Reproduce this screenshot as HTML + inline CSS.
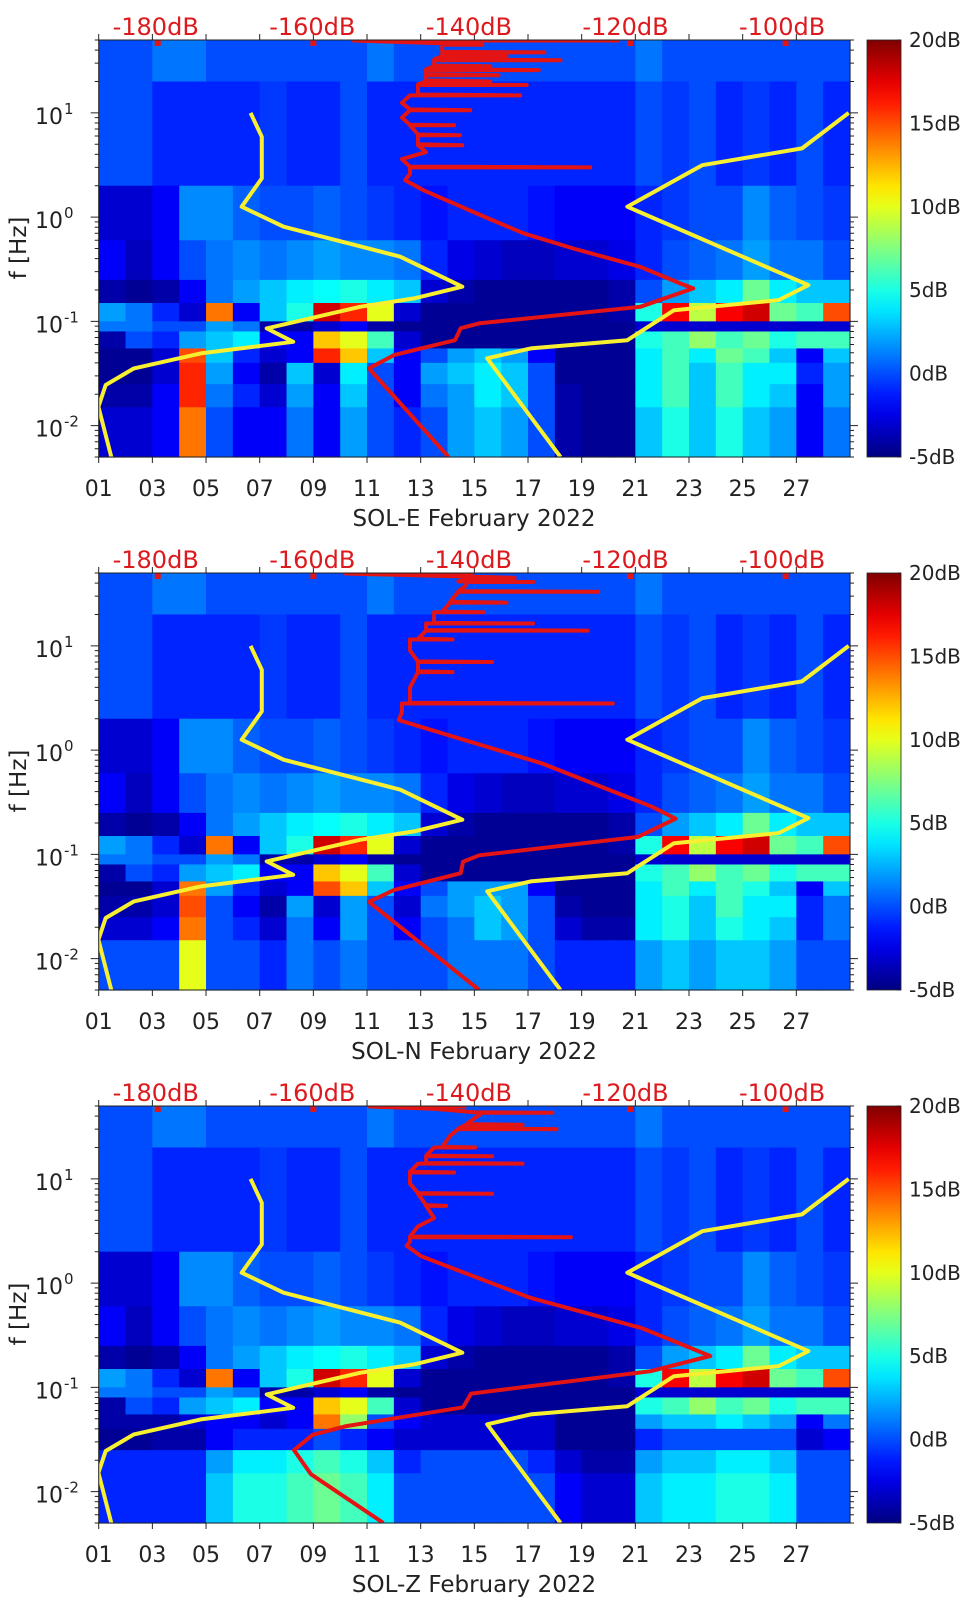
<!DOCTYPE html>
<html><head><meta charset="utf-8">
<style>
html,body{margin:0;padding:0;background:#fff;}
body{width:962px;height:1599px;position:relative;overflow:hidden;font-family:"DejaVu Sans","Liberation Sans",sans-serif;}
svg{position:absolute;left:0;}
</style></head>
<body>
<svg id="p0" width="962" height="533" style="top:0"></svg>
<svg id="p1" width="962" height="533" style="top:533px"></svg>
<svg id="p2" width="962" height="533" style="top:1066px"></svg>
<script>
// ---- data ----
const bandEdges=[50,20,2,0.6,0.25,0.15,0.1,0.08,0.055,0.04,0.025,0.015,0.005];
const dayTicks=[1,3,5,7,9,11,13,15,17,19,21,23,25,27];
const dbTicks=[-180,-160,-140,-120,-100];
const cbTicks=[20,15,10,5,0,-5];
const panelNames=["SOL-E February 2022","SOL-N February 2022","SOL-Z February 2022"];
// shared upper rows (dB per day 1..28)
const rowA=[0,0,1,1,0,0,0,0,0,0,1,0,0,0,0,0,0,0,0,0,1,0,0,0,0,0,0,0];
const rowB=[0,0,-1,-1,-1,-1,-0.5,-1,-1,0,-1,-1,-1,-1,-1,-1,-1,-1,-1,-1,0,-0.5,0,-1,-0.5,-1,0,-1];
const rowC=[-3,-3,-2,1.5,1.5,0.5,0,0,0.5,0,-0.5,-1,-1.5,-1,-1,-1,-1.5,-2,-2,-2,-1,-0.5,0,0,1.5,0.5,0,-0.5];
const rowD=[-2,-3.5,-2,0,1,1.5,1,1.5,2,1.5,1.5,1,-1,-2.5,-3,-3.5,-3.5,-3,-3,-2.5,-1,0,0.5,1,2,1,1,0];
const rowE=[-4,-4.5,-4,-2,1,2,3,4,4.5,5,4,3,-3,-4,-4.5,-4.5,-4.5,-4.5,-4.5,-4,0,2,3,4,7,4,3,3];
const rowF=[2,1,-1,-3,14,-2,3,5,18,16,10,-3,-4.5,-4.5,-4.5,-4.5,-4.5,-4.5,-4.5,-4,5,17,9,17,18,7,6,15];
const rowG=[1,1,0,0,2,1,-4,-4,-3,-2,-4,-4.5,-4.5,-4.5,-4.5,-4.5,-4.5,-4.5,-4.5,-4.5,-3,-3,-3,-3,-3,-3,-3,-3];
const rowH=[-4,0,-1,2,3,4,-2,-2,12,10,6,-3,-4.5,-4.5,-4.5,-4.5,-4.5,-4.5,-4.5,-4.5,5,6,8,6,7,5,6,6];
// per-panel lower rows
const eI=[-4.5,-4.5,-3,15,3,-1,-3,-2,16,12,3,-2,0,2,3,2,-2,-4.5,-4.5,-4.5,4,6,4,7,6,3,-2,3];
const eJ1=[-4.5,-4.5,-3,16,2,-2,-4,3,-3,4,0,-2,2,3,4,3,0,-4.5,-4.5,-4.5,4,6,3,6,4,4,-1,2];
const eJ2=[-4,-4,-2,16,1,-1,-3,2,-2,3,0,-2,1,2,4,3,0,-4,-4.5,-4.5,4,6,3,6,4,3,-2,2];
const eK=[-3,-3,-2,14,0,-2,-2,1,-2,2,0,-1,0,2,3,2,0,-4,-4.5,-4.5,3,5,3,5,3,2,-2,1];
const nI=[-4.5,-4.5,-3,14,2,-1,-3,-2,15,12,3,-2,0,2,2,2,-2,-4.5,-4.5,-4.5,4,6,4,6,5,3,-2,3];
const nJ1=[-4,-4,-3,15,0,-2,-4,2,-3,2,0,-3,1,2,3,2,0,-4,-4.5,-4.5,4,5,3,6,4,4,-1,1];
const nJ2=[-3,-3,-2,14,0,-1,-3,1,-2,2,0,-2,0,1,3,2,0,-3,-4,-4,4,5,3,5,4,3,-1,1];
const nK=[0,0,0,10,0,0,-1,1,0,1,0,0,0,1,1,1,0,-1,-1,-1,2,3,2,3,3,2,0,0];
const zI=[-4,-4,-4,-3,-2,-2,-3,-2,14,8,0,-2,-3,-3,-3,-3,-3,-4.5,-4.5,-4.5,2,3,3,4,3,2,-2,1];
const zJ1=[-4.5,-4.5,-4,-4,-2,-1,-1,-1,0,-1,-2,-3,-3,-3,-3,-3,-3,-4.5,-4.5,-4.5,-1,0,0,0,0,0,-3,-2];
const zJ2=[-1,-1,-1,-1,2,4,4,5,6,5,3,-1,0,0,0,0,-1,-3,-4,-4,2,3,3,4,4,3,0,0];
const zK=[-1,-1,-1,-1,3,5,5,6,7,6,4,0,0,0,0,0,0,-2,-3,-3,3,4,4,5,5,4,0,0];
// noise models (yellow)
const lowF=[10,5.9,2.35,1.26,0.81,0.417,0.215,0.166,0.138,0.0857,0.0637,0.0493,0.0354,0.0245,0.0152,0.005];
const lowDb=[-167.8,-166.4,-166.4,-168.9,-163.7,-149.2,-141.5,-147.5,-154.2,-165.8,-162.5,-174,-182.3,-185.8,-186.7,-185.1];
const highF=[10,4.56,3.15,1.26,0.223,0.16,0.128,0.066,0.0551,0.0442,0.005];
const highDb=[-93.5,-99.3,-111.7,-121,-98.5,-102.2,-115.2,-121,-133,-138.4,-129.3];
// red curves
const redF0=[0.005,0.0354,0.0475,0.066,0.086,0.096,0.138,0.207,0.231,0.334,0.5,0.7,1.05,1.81,2.26,2.6,3.0,3.0,3.05,3.6,4.2,4.9,4.9,5.0,6.1,6.1,6.2,7.6,7.6,7.7,9,10.6,10.6,10.8,12.5,14.7,14.7,15,18.5,18.5,18.8,20,20,20.5,22,23,23,23.5,25.7,25.7,26.2,28,28,28.5,32,32,32.5,35,35,35.5,38,38,38.5,45,45,47,49.5,49.5];
const redDb0=[-143.2,-153.1,-150,-142.4,-141.7,-139.3,-119.4,-112.8,-114.4,-119.4,-127.7,-133.9,-139.3,-146.3,-148.6,-148,-148,-125.6,-148,-149,-146,-147,-141.5,-147,-147,-141.8,-147,-148,-142.5,-148,-149,-148,-140.5,-148,-149,-148,-134.3,-147,-147,-133.5,-147,-146,-138,-146,-146,-146,-137,-146,-146,-132,-146,-145,-138,-145,-145,-129.3,-145,-144,-136,-144,-144,-131.3,-144,-144,-139,-146,-155,-122];
const redF1=[0.005,0.035,0.0454,0.066,0.085,0.098,0.147,0.22,0.286,0.745,1.67,1.94,2.3,2.8,2.8,2.85,4,5.6,5.6,5.7,7,7,7.1,9,11.5,11.5,11.7,14,14,14.2,16.4,16.4,16.6,21,21,21.3,26,26,26.5,33,33,33.5,38,41,41,41.5,45,45,47,49.5,49.5];
const redDb1=[-139.4,-153.1,-150,-141.7,-141.4,-139.4,-119.7,-115,-117.9,-131.6,-146.6,-149.4,-149,-149,-122.8,-148,-148,-147,-142.7,-147,-147,-137.8,-147,-148,-148,-142.7,-147,-146,-125.9,-146,-146,-132.7,-145,-145,-138.9,-144,-143,-136,-143,-142,-124.6,-142,-141,-141,-132.7,-142,-140,-135,-145,-156,-140];
const redF2=[0.005,0.0147,0.025,0.0351,0.0425,0.0644,0.0872,0.143,0.2,0.37,0.73,1.81,2.28,2.5,2.76,2.76,2.8,3.5,4.2,5.5,5.5,5.6,7.2,7.2,7.3,9,11.5,11.5,11.7,14,14,14.2,16.5,16.5,16.7,20,20,20.3,26,30,30,30.4,33,33,33.5,43,43,43.5,47,49.5,49.5];
const redDb2=[-151.3,-160.3,-162.4,-160.1,-155.9,-141.4,-140.4,-118.1,-110.7,-119.2,-133.2,-146.6,-148.4,-148,-148,-128,-148,-147,-145,-146,-143.5,-146,-147,-137.8,-147,-148,-148,-142.5,-148,-147,-134,-146,-146,-137.8,-146,-145,-139.9,-144,-143,-142,-129.8,-142,-141,-134,-141,-139,-130.3,-140,-145,-153,-141];
const markerDays=[3.2,9.0,20.8,26.6];

const panels=[
 {rows:[rowA,rowB,rowC,rowD,rowE,rowF,rowG,rowH,eI,eJ1,eJ2,eK],rf:redF0,rd:redDb0},
 {rows:[rowA,rowB,rowC,rowD,rowE,rowF,rowG,rowH,nI,nJ1,nJ2,nK],rf:redF1,rd:redDb1},
 {rows:[rowA,rowB,rowC,rowD,rowE,rowF,rowG,rowH,zI,zJ1,zJ2,zK],rf:redF2,rd:redDb2}
];

// ---- geometry ----
const L=98.7,R=850,T=40,B=457,CBX=867,CBW=34;
const NS="http://www.w3.org/2000/svg";
function xDay(d){return L+(d-1)*(R-L)/28;}
function yF(f){return T+(Math.log10(50)-Math.log10(f))/(Math.log10(50)-Math.log10(0.005))*(B-T);}
function xDb(db){return xDay(3+(db+180)*0.3);}
function xDbLabel(db){return 155.7+(db+180)*7.83;}
function yCb(v){return T+(20-v)/25*(B-T);}
function jet(v){const t=Math.max(0,Math.min(1,(v+5)/25));const c=x=>Math.round(255*Math.max(0,Math.min(1,1.5-Math.abs(x))));return `rgb(${c(4*t-3)},${c(4*t-2)},${c(4*t-1)})`;}
function mk(tag,attrs,parent){const e=document.createElementNS(NS,tag);for(const k in attrs)e.setAttribute(k,attrs[k]);if(parent)parent.appendChild(e);return e;}

panels.forEach((P,pi)=>{
 const svg=document.getElementById('p'+pi);
 const defs=mk('defs',{},svg);
 const cp=mk('clipPath',{id:'clip'+pi},defs);
 mk('rect',{x:L,y:T,width:R-L,height:B-T},cp);
 const heat=mk('g',{},svg);
 
 
 P.rows.forEach((row,ri)=>{
  const y0=yF(bandEdges[ri]),y1=yF(bandEdges[ri+1]);
  row.forEach((v,ci)=>{
   const r=mk('rect',{x:xDay(ci+1),y:y0,width:xDay(ci+2)-xDay(ci+1)+0.6,height:y1-y0+0.6,fill:jet(v)},heat);
   
   
  });
 });
 const lines=mk('g',{'clip-path':`url(#clip${pi})`},svg);
 function poly(fs,dbs,col,w,name){
  const pts=fs.map((f,i)=>xDb(dbs[i]).toFixed(1)+','+yF(f).toFixed(1)).join(' ');
  const p=mk('polyline',{points:pts,fill:'none',stroke:col,'stroke-width':w,'stroke-linejoin':'round'},lines);
  
  
 }
 poly(lowF,lowDb,'#f7ef30',4,'low-noise-model-line');
 poly(highF,highDb,'#f7ef30',4,'high-noise-model-line');
 poly(P.rf,P.rd,'#e41414',4,'station-noise-line');
 markerDays.forEach(d=>{
  const m=mk('rect',{x:xDay(d)-3,y:T,width:6,height:6,fill:'#e41414'},lines);
  
  
 });
 const fr=mk('rect',{x:L,y:T,width:R-L,height:B-T,fill:'none',stroke:'#222','stroke-width':1},svg);
 
 
 const ax=mk('g',{stroke:'#222','stroke-width':1},svg);
 dayTicks.forEach(d=>{
  const x=xDay(d);
  mk('line',{x1:x,y1:B,x2:x,y2:B+6},ax);
  mk('line',{x1:x,y1:T,x2:x,y2:T-6},ax);
  const t=mk('text',{x:x,y:496,'text-anchor':'middle','font-size':22,fill:'#222',stroke:'none'},svg);
  t.textContent=(d<10?'0':'')+d;
  
  
 });
 for(let e=-3;e<=1;e++){
  for(let m=1;m<=9;m++){
   const f=m*Math.pow(10,e); if(f<0.005||f>50)continue;
   const y=yF(f),len=m===1?8:4;
   mk('line',{x1:L,y1:y,x2:L-len,y2:y},ax);
   mk('line',{x1:R,y1:y,x2:R+len,y2:y},ax);
  }
 }
 [-2,-1,0,1].forEach(e=>{
  const y=yF(Math.pow(10,e));
  const t=mk('text',{x:63,y:y+11,'text-anchor':'end','font-size':22,fill:'#222'},svg);
  t.textContent='10';
  
  
  const s=mk('text',{x:64,y:y+1,'font-size':15,fill:'#222'},svg);
  s.textContent=String(e);
  
  
 });
 const yl=mk('text',{x:0,y:0,transform:'translate(26,248) rotate(-90)','text-anchor':'middle','font-size':23,fill:'#222'},svg);
 yl.textContent='f [Hz]';
 
 
 const xl=mk('text',{x:474,y:526,'text-anchor':'middle','font-size':23,fill:'#222'},svg);
 xl.textContent=panelNames[pi];
 
 
 dbTicks.forEach(db=>{
  const t=mk('text',{x:xDbLabel(db),y:35,'text-anchor':'middle','font-size':24,fill:'#dc1a1e'},svg);
  t.textContent=db+'dB';
  
  
 });
 const lg=mk('linearGradient',{id:'cb'+pi,x1:0,y1:1,x2:0,y2:0},defs);
 for(let i=0;i<=20;i++){const v=-5+25*i/20;mk('stop',{offset:(i/20),'stop-color':jet(v)},lg);}
 const cb=mk('rect',{x:CBX,y:T,width:CBW,height:B-T,fill:`url(#cb${pi})`,stroke:'#222','stroke-width':0.8},svg);
 
 
 cbTicks.forEach(v=>{
  const y=yCb(v);
  mk('line',{x1:CBX+CBW-4,y1:y,x2:CBX+CBW,y2:y},ax);
  const t=mk('text',{x:909,y:y+7,'font-size':20,fill:'#222'},svg);
  t.textContent=v+'dB';
  
  
 });
});
</script>
</body></html>
